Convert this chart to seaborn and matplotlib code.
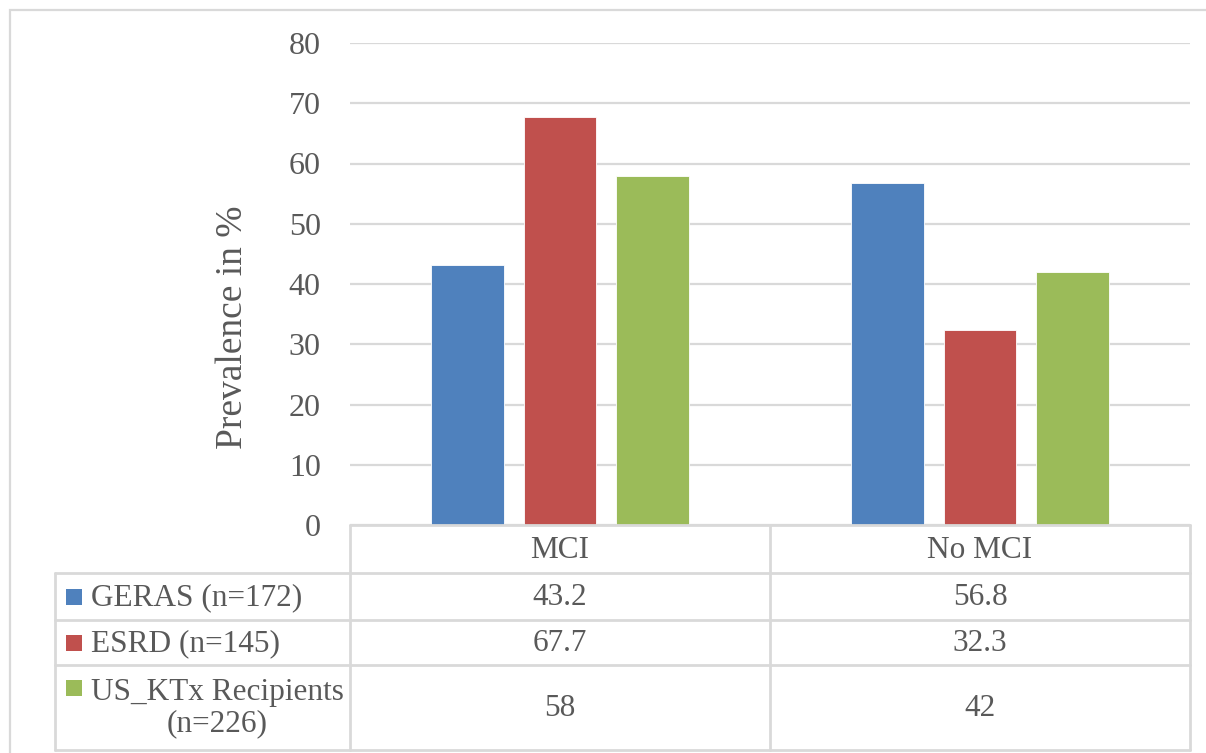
import matplotlib
matplotlib.use("Agg")
import matplotlib.pyplot as plt
from matplotlib.lines import Line2D
from matplotlib.patches import Rectangle
import pandas as pd
import seaborn as sns

# Data
categories = ["MCI", "No MCI"]
series = ["GERAS (n=172)", "ESRD (n=145)", "US_KTx Recipients\n(n=226)"]
geras = [43.2, 56.8]
esrd = [67.7, 32.3]
us_ktx = [58, 42]
value_labels = [["43.2", "56.8"], ["67.7", "32.3"], ["58", "42"]]
colors = ["#4F81BD", "#C0504D", "#9BBB59"]
y_ticks = [0, 10, 20, 30, 40, 50, 60, 70, 80]

df = pd.DataFrame({
    "category": categories * 3,
    "series": [s for s in series for _ in categories],
    "value": geras + esrd + us_ktx,
})

sns.set_theme(style="white")
plt.rcParams["font.family"] = ["Liberation Serif", "DejaVu Serif"]
TXT = "#595959"
GRID = "#D9D9D9"
FS = 22.5

W, H = 1206, 753
fig = plt.figure(figsize=(W / 100, H / 100), dpi=100)


def fx(px):
    return px / W


def fy(py):
    return 1 - py / H


# Plot area
left, right, top, bottom = 350, 1190, 43, 525
ax = fig.add_axes([fx(left), fy(bottom), fx(right - left), (bottom - top) / H])
sns.barplot(data=df, x="category", y="value", hue="series", palette=colors,
            saturation=1, width=0.664, gap=0.215, ax=ax, legend=False,
            edgecolor="white", linewidth=0.6)
ax.set_ylim(0, 80)
ax.set_xlim(-0.5, 1.5)
ax.set_yticks(y_ticks)
ax.set_yticklabels([str(t) for t in y_ticks], fontsize=FS + 0.5, color=TXT)
ax.tick_params(axis="y", length=0, pad=21)
ax.set_xticks([])
ax.set_xlabel("")
ax.set_ylabel("")
ax.yaxis.grid(True, color=GRID, linewidth=1.6)
ax.set_axisbelow(True)
for s in ax.spines.values():
    s.set_visible(False)

fig.text(fx(233), fy(327), "Prevalence in %", rotation=90, fontsize=27,
         color=TXT, ha="center", va="center")

# Outer chart border
fig.add_artist(Rectangle((fx(10), fy(760)), fx(1210 - 10), (760 - 10) / H,
                         fill=False, edgecolor=GRID, linewidth=1.6,
                         transform=fig.transFigure))


def hline(x0, x1, y):
    fig.add_artist(Line2D([fx(x0), fx(x1)], [fy(y), fy(y)], color=GRID,
                          linewidth=2, transform=fig.transFigure))


def vline(x, y0, y1):
    fig.add_artist(Line2D([fx(x), fx(x)], [fy(y0), fy(y1)], color=GRID,
                          linewidth=2, transform=fig.transFigure))


# Data table
tab_left, col1, col2 = 55, 350, 770
row_y = [525, 573, 620, 665, 750]
hline(col1, right, row_y[0])
for y in row_y[1:]:
    hline(tab_left, right, y)
vline(tab_left, row_y[1], row_y[-1])
vline(col1, row_y[0], row_y[-1])
vline(col2, row_y[0], row_y[-1])
vline(right, row_y[0], row_y[-1])

col_centers = [(col1 + col2) / 2, (col2 + right) / 2]
for c, cx in zip(categories, col_centers):
    fig.text(fx(cx), fy((row_y[0] + row_y[1]) / 2 + 1), c, fontsize=FS,
             color=TXT, ha="center", va="center")

for i, (name, col) in enumerate(zip(series, colors)):
    y0, y1 = row_y[i + 1], row_y[i + 2]
    yc = (y0 + y1) / 2
    first_line_y = yc if "\n" not in name else y0 + 23
    fig.add_artist(Rectangle((fx(66), fy(first_line_y + 8)), fx(16), 16 / H,
                             facecolor=col, edgecolor="none",
                             transform=fig.transFigure))
    fig.text(fx(91), fy(yc + 1), name,
             fontsize=FS, color=TXT, ha="left", va="center",
             multialignment="center", linespacing=1.1)
    for j, cx in enumerate(col_centers):
        fig.text(fx(cx), fy(yc + 1), value_labels[i][j], fontsize=FS,
                 color=TXT, ha="center", va="center")

fig.savefig("out.png", dpi=100, facecolor="white")
